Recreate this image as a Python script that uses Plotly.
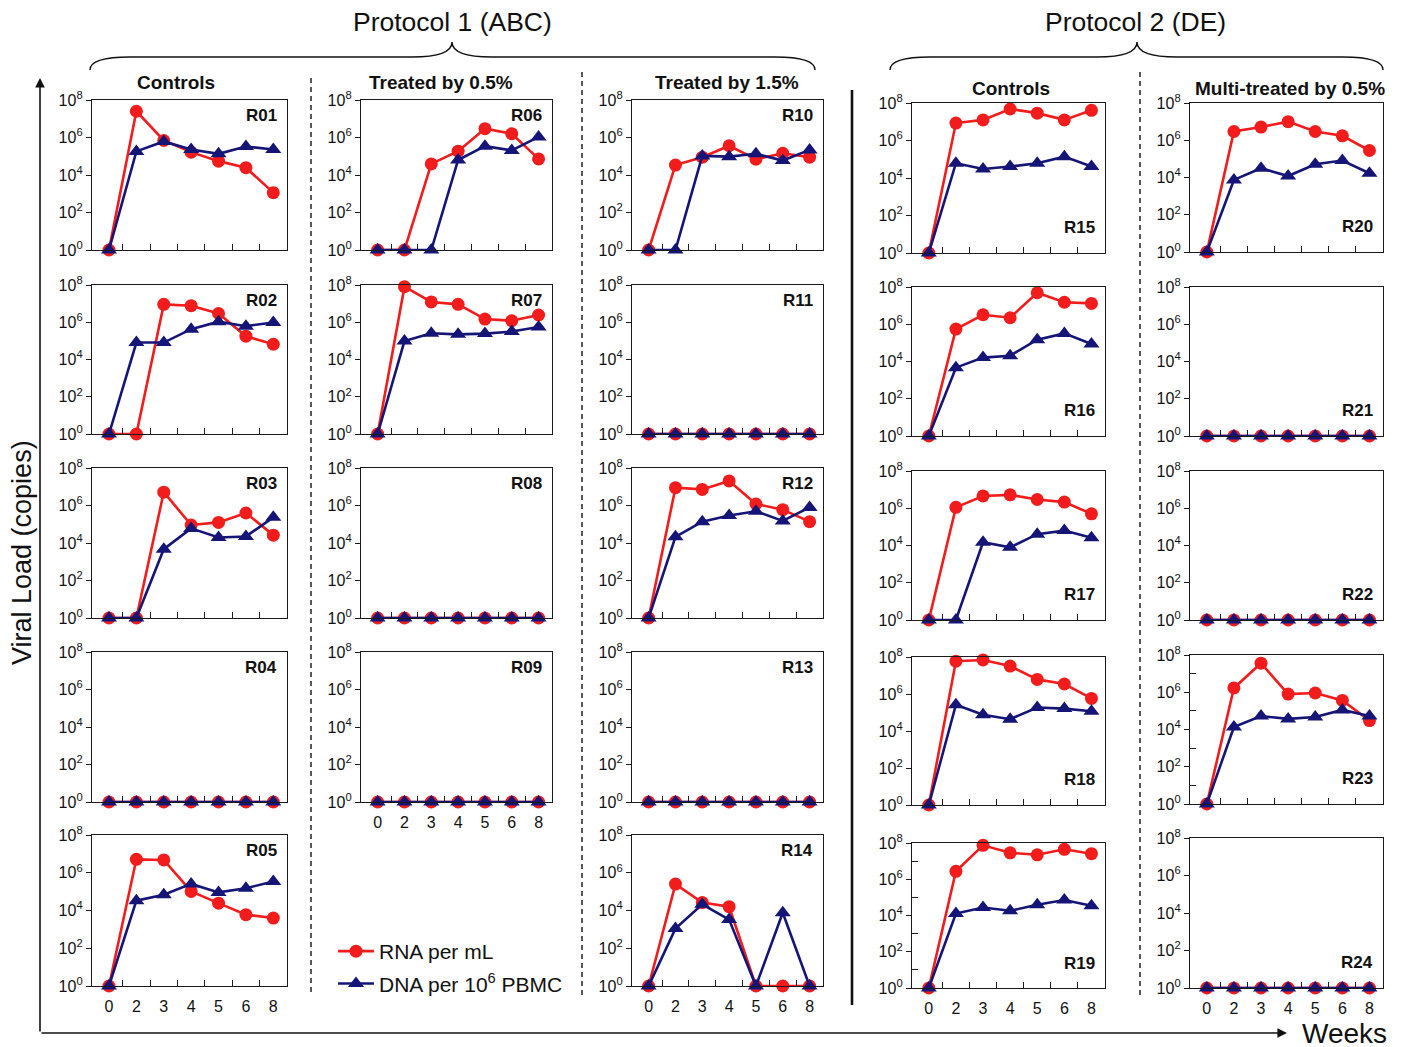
import plotly.graph_objects as go

W, H = 1404, 1047
OX, OY = 8, 8  # page offset of the figure inside the browser body

WEEKS = ["0", "2", "3", "4", "5", "6", "8"]
Y_TICK_EXP = [0, 2, 4, 6, 8]
Y_MINOR_EXP = [1, 3, 5, 7]

# Viral load, log10(copies); 0 means 10^0 (undetected)
R01_RNA = [0, 7.40, 5.84, 5.22, 4.74, 4.39, 3.06]
R01_DNA = [0, 5.26, 5.79, 5.36, 5.13, 5.52, 5.36]
R02_RNA = [0, 0, 6.96, 6.89, 6.47, 5.25, 4.82]
R02_DNA = [0, 4.91, 4.91, 5.63, 6.03, 5.79, 5.99]
R03_RNA = [0, 0, 6.71, 4.96, 5.10, 5.60, 4.42]
R03_DNA = [0, 0, 3.67, 4.78, 4.29, 4.35, 5.37]
R04_RNA = [0, 0, 0, 0, 0, 0, 0]
R04_DNA = [0, 0, 0, 0, 0, 0, 0]
R05_RNA = [0, 6.71, 6.68, 5.01, 4.39, 3.78, 3.60]
R05_DNA = [0, 4.52, 4.83, 5.41, 4.96, 5.18, 5.54]
R06_RNA = [0, 0, 4.59, 5.27, 6.47, 6.20, 4.86]
R06_DNA = [0, 0, 0, 4.80, 5.54, 5.31, 6.03]
R07_RNA = [0, 7.91, 7.09, 6.96, 6.17, 6.08, 6.39]
R07_DNA = [0, 4.99, 5.41, 5.35, 5.39, 5.50, 5.75]
R08_RNA = [0, 0, 0, 0, 0, 0, 0]
R08_DNA = [0, 0, 0, 0, 0, 0, 0]
R09_RNA = [0, 0, 0, 0, 0, 0, 0]
R09_DNA = [0, 0, 0, 0, 0, 0, 0]
R10_RNA = [0, 4.53, 4.95, 5.56, 4.84, 5.16, 4.95]
R10_DNA = [0, 0, 5.02, 4.98, 5.13, 4.77, 5.34]
R11_RNA = [0, 0, 0, 0, 0, 0, 0]
R11_DNA = [0, 0, 0, 0, 0, 0, 0]
R12_RNA = [0, 6.95, 6.86, 7.31, 6.08, 5.78, 5.14]
R12_DNA = [0, 4.33, 5.14, 5.47, 5.69, 5.18, 5.90]
R13_RNA = [0, 0, 0, 0, 0, 0, 0]
R13_DNA = [0, 0, 0, 0, 0, 0, 0]
R14_RNA = [0, 5.40, 4.42, 4.20, 0, 0, 0]
R14_DNA = [0, 3.04, 4.33, 3.52, 0, 3.88, 0]
R15_RNA = [0, 6.93, 7.10, 7.68, 7.46, 7.10, 7.61]
R15_DNA = [0, 4.79, 4.48, 4.61, 4.79, 5.14, 4.61]
R16_RNA = [0, 5.74, 6.51, 6.35, 7.69, 7.18, 7.12]
R16_DNA = [0, 3.67, 4.21, 4.31, 5.17, 5.51, 4.94]
R17_RNA = [0, 6.05, 6.66, 6.72, 6.47, 6.33, 5.70]
R17_DNA = [0, 0, 4.17, 3.90, 4.61, 4.80, 4.41]
R18_RNA = [0, 7.77, 7.84, 7.51, 6.79, 6.54, 5.76]
R18_DNA = [0, 5.42, 4.88, 4.64, 5.27, 5.21, 5.07]
R19_RNA = [0, 6.44, 7.87, 7.46, 7.35, 7.65, 7.41]
R19_DNA = [0, 4.11, 4.44, 4.26, 4.59, 4.85, 4.54]
R20_RNA = [0, 6.47, 6.71, 7.00, 6.47, 6.24, 5.45]
R20_DNA = [0, 3.87, 4.50, 4.08, 4.71, 4.91, 4.23]
R21_RNA = [0, 0, 0, 0, 0, 0, 0]
R21_DNA = [0, 0, 0, 0, 0, 0, 0]
R22_RNA = [0, 0, 0, 0, 0, 0, 0]
R22_DNA = [0, 0, 0, 0, 0, 0, 0]
R23_RNA = [0, 6.23, 7.56, 5.90, 5.96, 5.56, 4.48]
R23_DNA = [0, 4.13, 4.72, 4.57, 4.67, 5.05, 4.72]
R24_RNA = [0, 0, 0, 0, 0, 0, 0]
R24_DNA = [0, 0, 0, 0, 0, 0, 0]

RED = "#f21c1c"
NAVY = "#151577"
AX = "#1a1a1a"
FONT = "Liberation Sans, Arial, sans-serif"

# column pixel extents and row pixel extents (screen pixels)
COL_X = {1: (92, 287), 2: (361, 552), 3: (632, 823), 4: (912, 1105), 5: (1190, 1383)}
ROWS_A = {1: (100, 250), 2: (285, 434), 3: (468, 618), 4: (652, 802), 5: (835, 986)}
ROWS_4 = {1: (103, 253), 2: (287, 436), 3: (471, 620), 4: (657, 805), 5: (843, 988)}
ROWS_5 = {1: (103, 252), 2: (287, 436), 3: (471, 620), 4: (655, 804), 5: (838, 988)}

PANELS = [
    ("R01", R01_RNA, R01_DNA, 1, 1), ("R02", R02_RNA, R02_DNA, 1, 2),
    ("R03", R03_RNA, R03_DNA, 1, 3), ("R04", R04_RNA, R04_DNA, 1, 4),
    ("R05", R05_RNA, R05_DNA, 1, 5),
    ("R06", R06_RNA, R06_DNA, 2, 1), ("R07", R07_RNA, R07_DNA, 2, 2),
    ("R08", R08_RNA, R08_DNA, 2, 3), ("R09", R09_RNA, R09_DNA, 2, 4),
    ("R10", R10_RNA, R10_DNA, 3, 1), ("R11", R11_RNA, R11_DNA, 3, 2),
    ("R12", R12_RNA, R12_DNA, 3, 3), ("R13", R13_RNA, R13_DNA, 3, 4),
    ("R14", R14_RNA, R14_DNA, 3, 5),
    ("R15", R15_RNA, R15_DNA, 4, 1), ("R16", R16_RNA, R16_DNA, 4, 2),
    ("R17", R17_RNA, R17_DNA, 4, 3), ("R18", R18_RNA, R18_DNA, 4, 4),
    ("R19", R19_RNA, R19_DNA, 4, 5),
    ("R20", R20_RNA, R20_DNA, 5, 1), ("R21", R21_RNA, R21_DNA, 5, 2),
    ("R22", R22_RNA, R22_DNA, 5, 3), ("R23", R23_RNA, R23_DNA, 5, 4),
    ("R24", R24_RNA, R24_DNA, 5, 5),
]
BOTTOM = {"R05", "R09", "R14", "R19", "R24"}
WITH_MINOR_Y = {"R19", "R23"}


def px(x):
    return (x - OX) / W


def py(y):
    return 1 - (y - OY) / H


positions = list(range(len(WEEKS)))
fig = go.Figure()
layout = {}
annotations = []

for i, (name, rna, dna, col, row) in enumerate(PANELS, 1):
    x0, x1 = COL_X[col]
    rows = ROWS_A if col <= 3 else (ROWS_4 if col == 4 else ROWS_5)
    y0, y1 = rows[row]
    xs = "x" if i == 1 else f"x{i}"
    ys = "y" if i == 1 else f"y{i}"
    xa = "xaxis" if i == 1 else f"xaxis{i}"
    ya = "yaxis" if i == 1 else f"yaxis{i}"
    layout[xa] = dict(
        domain=[px(x0), px(x1)], anchor=ys, range=[-0.62, 6.5],
        tickmode="array", tickvals=positions, ticktext=WEEKS,
        showticklabels=name in BOTTOM, ticks="", ticklabelstandoff=6,
        tickfont=dict(size=16, color="#111", family=FONT),
        showline=True, mirror=True, linecolor=AX, linewidth=1.3,
        showgrid=False, zeroline=False,
        minor=dict(tickmode="array", tickvals=[p + 0.5 for p in positions],
                   ticks="inside", ticklen=6, tickwidth=1.3, tickcolor=AX,
                   showgrid=False),
    )
    yminor = dict(showgrid=False)
    if name in WITH_MINOR_Y:
        yminor = dict(tickmode="array", tickvals=[10 ** e for e in Y_MINOR_EXP],
                      ticks="inside", ticklen=6, tickwidth=1.2, tickcolor=AX,
                      showgrid=False)
    layout[ya] = dict(
        domain=[py(y1), py(y0)], anchor=xs, type="log", range=[0, 8],
        tickmode="array", tickvals=[10 ** e for e in Y_TICK_EXP],
        ticktext=[f"10<sup>{e}</sup>" for e in Y_TICK_EXP],
        ticks="outside", ticklen=5, tickwidth=1.2, tickcolor=AX,
        tickfont=dict(size=16, color="#111", family=FONT),
        showline=True, mirror=True, linecolor=AX, linewidth=1.3,
        showgrid=False, zeroline=False, minor=yminor,
    )
    fig.add_trace(go.Scatter(
        x=positions, y=[10 ** v for v in rna], xaxis=xs, yaxis=ys,
        mode="lines+markers", name="RNA per mL", legendgroup="rna",
        showlegend=(i == 1), cliponaxis=False,
        line=dict(color=RED, width=2.6),
        marker=dict(symbol="circle", size=13, color=RED),
    ))
    fig.add_trace(go.Scatter(
        x=positions, y=[10 ** v for v in dna], xaxis=xs, yaxis=ys,
        mode="lines+markers", name="DNA per 10<sup>6</sup> PBMC", legendgroup="dna",
        showlegend=(i == 1), cliponaxis=False,
        line=dict(color=NAVY, width=2.6),
        marker=dict(symbol="triangle-up", size=14, color=NAVY),
    ))
    if col <= 3:
        annotations.append(dict(
            text=f"<b>{name}</b>", xref=f"{xs} domain", yref=f"{ys} domain",
            x=1, y=0.995, xanchor="right", yanchor="top", xshift=-8, yshift=-3,
            showarrow=False, font=dict(size=17, color="#111", family=FONT)))
    else:
        annotations.append(dict(
            text=f"<b>{name}</b>", xref=f"{xs} domain", yref=f"{ys} domain",
            x=1, y=0.17, xanchor="right", yanchor="middle", xshift=-8,
            showarrow=False, font=dict(size=17, color="#111", family=FONT)))

# column headers
for txt, cx, cy in [("Controls", 176, 83), ("Treated by 0.5%", 441, 82),
                    ("Treated by 1.5%", 727, 82), ("Controls", 1011, 88),
                    ("Multi-treated by 0.5%", 1290, 88)]:
    annotations.append(dict(text=f"<b>{txt}</b>", xref="paper", yref="paper",
                            x=px(cx), y=py(cy), xanchor="center", yanchor="middle",
                            showarrow=False, font=dict(size=19, color="#111", family=FONT)))

# protocol titles
for txt, cx in [("Protocol 1 (ABC)", 452), ("Protocol 2 (DE)", 1135)]:
    annotations.append(dict(text=txt, xref="paper", yref="paper",
                            x=px(cx), y=py(22), xanchor="center", yanchor="middle",
                            showarrow=False, font=dict(size=26.5, color="#111", family=FONT)))

# axis titles
annotations.append(dict(text="Viral Load (copies)", xref="paper", yref="paper",
                        x=px(22), y=py(553), xanchor="center", yanchor="middle",
                        textangle=-90, showarrow=False,
                        font=dict(size=27, color="#111", family=FONT)))
annotations.append(dict(text="Weeks", xref="paper", yref="paper",
                        x=px(1344), y=py(1033), xanchor="center", yanchor="middle",
                        showarrow=False, font=dict(size=28, color="#111", family=FONT)))

# big arrows
annotations.append(dict(text="", xref="paper", yref="paper", x=px(40), y=py(78),
                        ax=0, ay=955, showarrow=True, arrowhead=2, arrowsize=1.2,
                        arrowwidth=1.6, arrowcolor="#111"))
annotations.append(dict(text="", xref="paper", yref="paper", x=px(1287), y=py(1033),
                        ax=-1247, ay=0, showarrow=True, arrowhead=2, arrowsize=1.2,
                        arrowwidth=1.6, arrowcolor="#111"))


def brace(x0, xm, x1, ytop, ymid, yend):
    def P(x, y):
        return f"{px(x):.5f},{py(y):.5f}"
    return (f"M {P(x0, yend)} Q {P(x0, ymid)} {P(x0 + 40, ymid)} "
            f"L {P(xm - 40, ymid)} Q {P(xm, ymid)} {P(xm, ytop)} "
            f"Q {P(xm, ymid)} {P(xm + 40, ymid)} "
            f"L {P(x1 - 40, ymid)} Q {P(x1, ymid)} {P(x1, yend)}")


shapes = [
    dict(type="path", xref="paper", yref="paper", path=brace(90, 452, 815, 42, 57, 70),
         line=dict(color="#111", width=1.4)),
    dict(type="path", xref="paper", yref="paper", path=brace(890, 1137, 1383, 42, 57, 70),
         line=dict(color="#111", width=1.4)),
]
for xx, ya_, yb_ in [(311, 78, 995), (582, 72, 995), (1140, 72, 995)]:
    shapes.append(dict(type="line", xref="paper", yref="paper", x0=px(xx), x1=px(xx),
                       y0=py(ya_), y1=py(yb_), line=dict(color="#222", width=1.5, dash="5px,4px")))
shapes.append(dict(type="line", xref="paper", yref="paper", x0=px(852), x1=px(852),
                   y0=py(90), y1=py(1005), line=dict(color="#111", width=2.6)))

fig.update_layout(
    width=W, height=H, autosize=False,
    margin=dict(l=0, r=0, t=0, b=0, pad=0, autoexpand=False),
    paper_bgcolor="white", plot_bgcolor="white",
    font=dict(family=FONT, color="#111"),
    annotations=annotations, shapes=shapes,
    showlegend=True,
    legend=dict(x=px(333), y=py(931), xanchor="left", yanchor="top",
                bgcolor="rgba(0,0,0,0)", font=dict(size=21, family=FONT, color="#111"),
                tracegroupgap=2, itemwidth=36),
    **layout,
)

fig.write_html("out.html")
